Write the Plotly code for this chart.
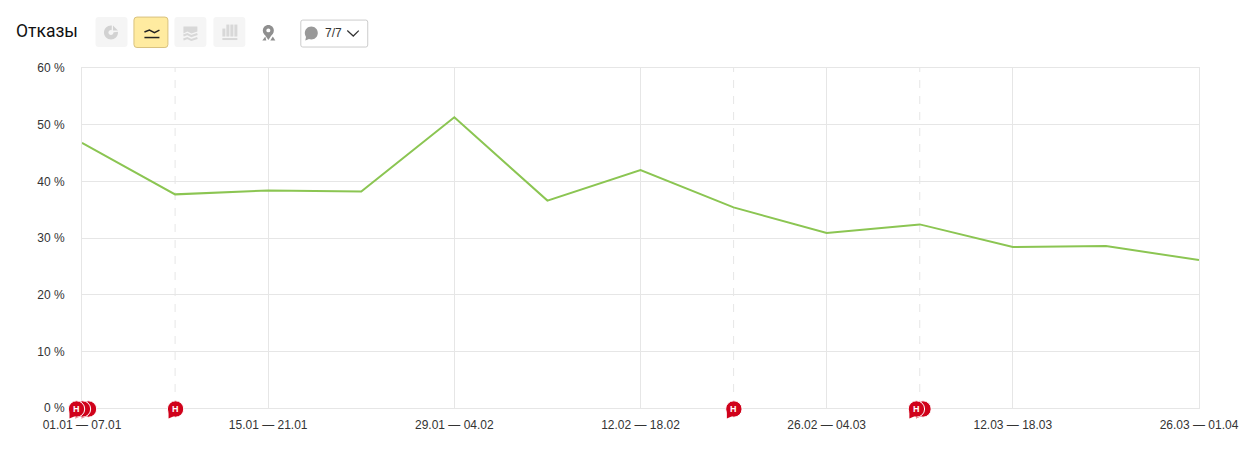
import plotly.graph_objects as go

W, H = 1247, 451
L, R, T, B = 81.5, 1199.5, 67.5, 408.0

# --- data ---
periods_x = list(range(13))
bounce_rate = [46.8, 37.7, 38.4, 38.2, 51.3, 36.6, 42.0, 35.4, 30.9, 32.4, 28.4, 28.6, 26.1]
tick_positions = [0, 2, 4, 6, 8, 10, 12]
tick_labels = ["01.01 — 07.01", "15.01 — 21.01", "29.01 — 04.02", "12.02 — 18.02",
               "26.02 — 04.03", "12.03 — 18.03", "26.03 — 01.04"]
y_ticks = [0, 10, 20, 30, 40, 50, 60]
y_labels = ["0 %", "10 %", "20 %", "30 %", "40 %", "50 %", "60 %"]
note_lines = [1, 7, 9]
note_positions = [0.07, 0.005, -0.059, 1.005, 7.003, 9.035, 8.964]
note_text = ["", "", "Н", "Н", "Н", "", "Н"]
X_MAX = 12

GRID = "#e6e6e6"
RED = "#d0021b"

def px(x): return (x - L) / (R - L)
def py(y): return (B - y) / (B - T)

def path(cmds):
    out = []
    for c in cmds:
        if len(c) == 1:
            out.append(c[0])
        else:
            pts = " ".join(f"{px(c[i]):.5f},{py(c[i+1]):.5f}" for i in range(1, len(c), 2))
            out.append(f"{c[0]} {pts}")
    return " ".join(out)

def rrect(x0, y0, x1, y1, r):
    return [("M", x0 + r, y0), ("L", x1 - r, y0), ("Q", x1, y0, x1, y0 + r), ("L", x1, y1 - r),
            ("Q", x1, y1, x1 - r, y1), ("L", x0 + r, y1), ("Q", x0, y1, x0, y1 - r),
            ("L", x0, y0 + r), ("Q", x0, y0, x0 + r, y0), ("Z",)]

def chrome(cmds, fill="rgba(0,0,0,0)", line=None, width=1):
    return dict(type="path", xref="paper", yref="paper", path=path(cmds), fillcolor=fill,
                line=dict(color=line or "rgba(0,0,0,0)", width=width if line else 0), layer="above")

def circle(cx, cy, r):
    k = r * 0.5523
    return [("M", cx - r, cy), ("C", cx - r, cy - k, cx - k, cy - r, cx, cy - r),
            ("C", cx + k, cy - r, cx + r, cy - k, cx + r, cy),
            ("C", cx + r, cy + k, cx + k, cy + r, cx, cy + r),
            ("C", cx - k, cy + r, cx - r, cy + k, cx - r, cy), ("Z",)]

shapes = []
# toolbar buttons
shapes.append(chrome(rrect(95, 16.5, 127, 46.5, 3), "#f5f5f5"))
shapes.append(chrome(rrect(133.5, 16.5, 167.5, 47, 3), "#ffeba0", "#d9c27e"))
shapes.append(chrome(rrect(174, 16.5, 206, 46.5, 3), "#f5f5f5"))
shapes.append(chrome(rrect(213, 16.5, 245, 46.5, 3), "#f5f5f5"))
shapes.append(chrome(rrect(300.5, 19.5, 367.5, 46.5, 2), "#ffffff", "#cccccc"))
# pie icon
shapes.append(chrome(circle(110.5, 32, 7), "#d2d2d2"))
shapes.append(chrome(circle(110.5, 32, 2.5), "#f5f5f5"))
shapes.append(chrome([("M", 111, 32), ("L", 120, 31), ("L", 119, 24), ("L", 111.5, 24), ("Z",)], "#f5f5f5"))
shapes.append(chrome([("M", 112.5, 25), ("L", 117.5, 30), ("L", 112.5, 30), ("Z",)], "#d2d2d2"))
# line icon
shapes.append(chrome([("M", 144, 31.5), ("L", 149, 29.5), ("L", 154, 32), ("L", 159, 29.5)], line="#222222", width=1.5))
shapes.append(chrome([("M", 144, 37), ("L", 159, 37)], line="#222222", width=1.5))
# stacked icon
shapes.append(chrome([("M", 183, 26), ("L", 197, 26), ("L", 197, 31), ("L", 191, 33), ("L", 187, 31), ("L", 183, 33), ("Z",)], "#d8d8d8"))
shapes.append(chrome([("M", 183, 35), ("L", 187, 33.5), ("L", 191, 35.5), ("L", 197, 33.5)], line="#d8d8d8", width=2))
shapes.append(chrome([("M", 183, 39), ("L", 187, 37.5), ("L", 191, 39.5), ("L", 197, 37.5)], line="#d8d8d8", width=2))
# bars icon
for x0, y0 in [(222, 28), (226, 24), (230, 24), (234, 24)]:
    shapes.append(chrome([("M", x0, y0), ("L", x0 + 3, y0), ("L", x0 + 3, 36), ("L", x0, 36), ("Z",)], "#d8d8d8"))
shapes.append(chrome([("M", 222, 38.5), ("L", 237, 38.5)], line="#d8d8d8", width=2))
# map pin icon
shapes.append(chrome(circle(268, 30, 5.5), "#8f8f8f"))
shapes.append(chrome(circle(268, 30, 2), "#ffffff"))
shapes.append(chrome([("M", 263, 32), ("L", 273, 32), ("L", 268, 39.5), ("Z",)], "#8f8f8f"))
shapes.append(chrome([("M", 262, 40), ("L", 265, 36), ("L", 266, 40), ("Z",)], "#8f8f8f"))
shapes.append(chrome([("M", 270, 40), ("L", 272.5, 36), ("L", 275, 40), ("Z",)], "#8f8f8f"))
# comment icon
shapes.append(chrome(circle(311, 32.5, 6.5), "#999999"))
shapes.append(chrome([("M", 305, 40), ("L", 306, 35), ("L", 310, 38), ("Z",)], "#999999"))
# chevron
shapes.append(chrome([("M", 347, 30), ("L", 353, 35.5), ("L", 358.5, 30)], line="#333333", width=1.2))

# event lines
for n in note_lines:
    shapes.append(dict(type="line", xref="x", yref="y", x0=n, x1=n, y0=0, y1=60, layer="below",
                       line=dict(color=GRID, width=1, dash="8px,8px")))

annotations = [
    dict(xref="paper", yref="paper", x=px(13.5), y=py(30.5), xanchor="left", yanchor="middle",
         text="Отказы", showarrow=False, font=dict(family="Roboto", size=17.5, color="#111111")),
    dict(xref="paper", yref="paper", x=px(323), y=py(32.5), xanchor="left", yanchor="middle",
         text="7/7", showarrow=False, font=dict(family="Liberation Sans", size=12, color="#333333")),
]

# note bubbles: anchored on the axis through paper fractions so they are not clipped
for n, label in zip(note_positions, note_text):
    frac = n / X_MAX
    shapes.append(dict(type="circle", xref="paper", yref="paper", xsizemode="pixel", ysizemode="pixel",
                       xanchor=frac, yanchor=0, x0=-8.2, x1=8.2, y0=-9.2, y1=7.2, layer="above",
                       fillcolor=RED, line=dict(color="#ffffff", width=1)))
    shapes.append(dict(type="path", xref="paper", yref="paper", xsizemode="pixel", ysizemode="pixel",
                       xanchor=frac, yanchor=0, layer="above", fillcolor=RED, line=dict(width=0),
                       path="M -7 -10.5 L -7 -4 L 1 -7 Z"))
    if label:
        annotations.append(dict(xref="paper", yref="paper", x=frac, y=0, yshift=-1, text=f"<b>{label}</b>",
                                xanchor="center", yanchor="middle", showarrow=False,
                                font=dict(family="Liberation Sans", size=9, color="#ffffff")))

fig = go.Figure()
fig.add_trace(go.Scatter(x=periods_x, y=bounce_rate, mode="lines", line=dict(color="#8bc552", width=2),
                         cliponaxis=False, hoverinfo="skip"))

fig.update_layout(
    width=W, height=H, showlegend=False, plot_bgcolor="#ffffff", paper_bgcolor="#ffffff",
    margin=dict(l=L, r=W - R, t=T, b=H - B, pad=0),
    font=dict(family="Liberation Sans, Arial", size=12, color="#333333"),
    shapes=shapes,
    annotations=annotations,
    xaxis=dict(range=[0, X_MAX], tickmode="array", tickvals=tick_positions, ticktext=tick_labels,
               showgrid=True, gridcolor=GRID, gridwidth=1, zeroline=False,
               showline=True, linecolor=GRID, linewidth=1, mirror=True, automargin=False,
               ticks="", ticklabelstandoff=6, tickangle=0,
               tickfont=dict(size=12, color="#333333")),
    yaxis=dict(range=[0, 60], tickmode="array", tickvals=y_ticks, ticktext=y_labels,
               showgrid=True, gridcolor=GRID, gridwidth=1, zeroline=False,
               showline=True, linecolor=GRID, linewidth=1, mirror=True, automargin=False,
               ticks="", ticklabelstandoff=14, tickfont=dict(size=12, color="#333333")),
)
fig.write_html("out.html", config={"displayModeBar": False},
               post_script="document.body.style.margin='0';window.dispatchEvent(new Event('resize'));")
